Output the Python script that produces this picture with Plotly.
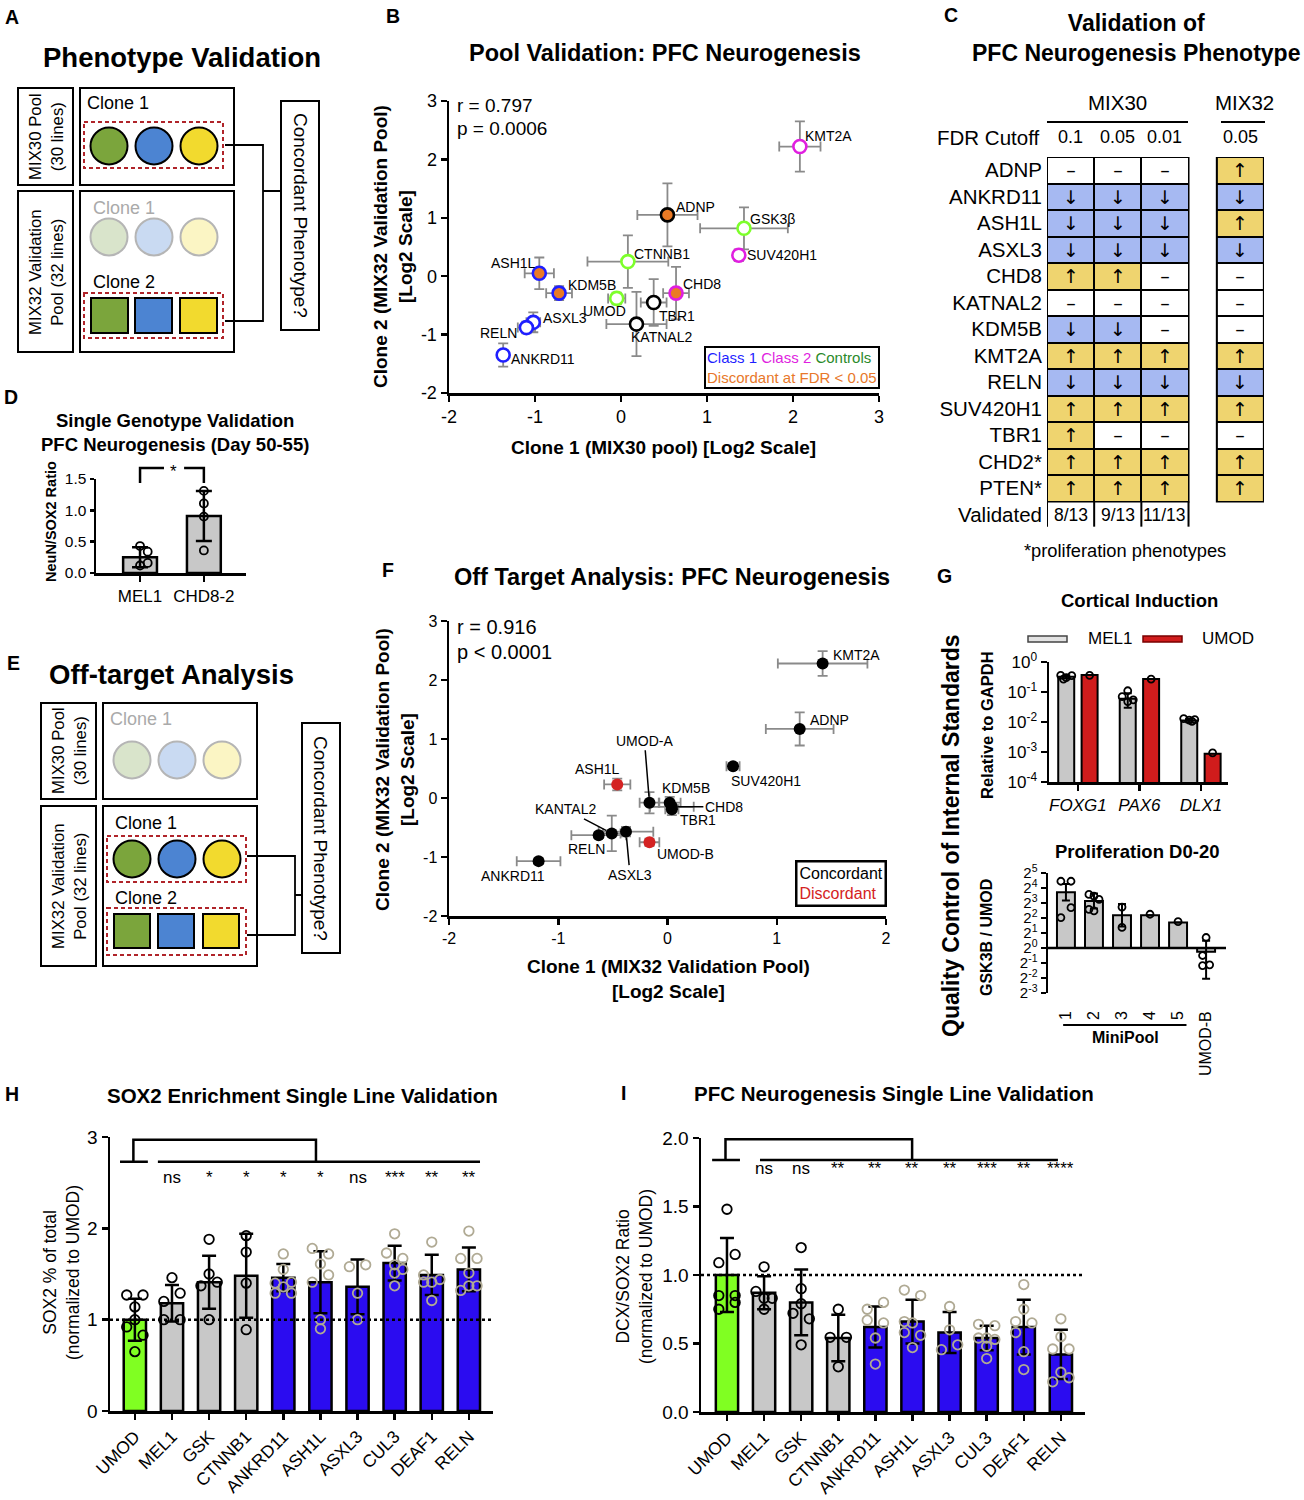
import numpy as np
import plotly.graph_objects as go

W, H = 1304, 1500
FONT = "Liberation Sans, Arial, Helvetica, sans-serif"

def px(x): return x / W
def py(y): return 1 - y / H

# ======================= DATA =======================
# Panel B : Pool validation
b_genes = ["KMT2A", "ADNP", "GSK3β", "SUV420H1", "CTNNB1", "ASH1L", "KDM5B", "UMOD",
           "CHD8", "TBR1", "KATNAL2", "ASXL3", "RELN", "ANKRD11"]
b_x = [2.08, 0.54, 1.43, 1.37, 0.08, -0.95, -0.72, -0.05, 0.64, 0.38, 0.18, -1.02, -1.10, -1.37]
b_y = [2.22, 1.05, 0.82, 0.36, 0.25, 0.05, -0.29, -0.38, -0.29, -0.45, -0.82, -0.79, -0.88, -1.35]
b_xerr = [0.24, 0.35, 0.51, 0.05, 0.47, 0.17, 0.15, 0.10, 0.15, 0.15, 0.35, 0.08, 0.10, 0.05]
b_yerr = [0.43, 0.54, 0.36, 0.10, 0.45, 0.27, 0.12, 0.10, 0.45, 0.40, 0.55, 0.17, 0.10, 0.20]
b_class = ["class2", "other", "control", "class2", "control", "class1", "class1", "control",
           "class2", "other", "other", "class1", "class1", "class1"]
b_discordant = [False, True, False, False, False, True, True, False, True, False, False, False, False, False]
b_r, b_p = "r = 0.797", "p = 0.0006"
b_ticks = [-2, -1, 0, 1, 2, 3]

# Panel C : validation table
c_genes = ["ADNP", "ANKRD11", "ASH1L", "ASXL3", "CHD8", "KATNAL2", "KDM5B", "KMT2A", "RELN",
           "SUV420H1", "TBR1", "CHD2*", "PTEN*"]
c_cutoffs = ["0.1", "0.05", "0.01"]
c_fdr_01 = ["N", "D", "D", "D", "U", "N", "D", "U", "D", "U", "U", "U", "U"]
c_fdr_005 = ["N", "D", "D", "D", "U", "N", "D", "U", "D", "U", "N", "U", "U"]
c_fdr_001 = ["N", "D", "D", "D", "N", "N", "N", "U", "D", "U", "N", "U", "U"]
c_mix32_cutoff = "0.05"
c_mix32 = ["U", "D", "U", "D", "N", "N", "N", "U", "D", "U", "N", "U", "U"]
c_validated = ["8/13", "9/13", "11/13"]

# Panel D
d_groups = ["MEL1", "CHD8-2"]
d_mean = [0.25, 0.91]
d_sd = [0.16, 0.40]
d_pts = [[0.43, 0.34, 0.16, 0.12], [1.31, 1.11, 0.90, 0.36]]

# Panel F : off target
f_genes = ["KMT2A", "ADNP", "SUV420H1", "UMOD-A", "KDM5B", "CHD8", "TBR1", "ASH1L", "UMOD-B",
           "KANTAL2", "ASXL3", "RELN", "ANKRD11"]
f_x = [1.42, 1.21, 0.60, -0.165, 0.02, 0.04, 0.04, -0.46, -0.165, -0.51, -0.38, -0.63, -1.18]
f_y = [2.28, 1.17, 0.54, -0.08, -0.08, -0.15, -0.19, 0.23, -0.75, -0.60, -0.57, -0.63, -1.07]
f_xerr = [0.41, 0.31, 0.06, 0.09, 0.10, 0.20, 0.06, 0.12, 0.09, 0.08, 0.25, 0.25, 0.20]
f_yerr = [0.21, 0.28, 0.05, 0.18, 0.10, 0.05, 0.10, 0.10, 0.06, 0.30, 0.08, 0.05, 0.05]
f_discordant = [False, False, False, False, False, False, False, True, True, False, False, False, False]
f_r, f_p = "r = 0.916", "p &lt; 0.0001"
f_xticks = [-2, -1, 0, 1, 2]
f_yticks = [-2, -1, 0, 1, 2, 3]

# Panel G top : cortical induction
g_genes = ["FOXG1", "PAX6", "DLX1"]
g_mel1 = [0.32, 0.06, 0.0113]
g_mel1_sd = [0.04, 0.03, 0.0015]
g_umod = [0.37, 0.27, 0.00088]
g_mel1_pts = [[0.36, 0.35, 0.30, 0.27], [0.11, 0.07, 0.055, 0.048], [0.013, 0.012, 0.0115, 0.0105]]
g_umod_pts = [[0.36], [0.27], [0.00093]]

# Panel G bottom : proliferation (log2 GSK3B / UMOD)
p_groups = ["1", "2", "3", "4", "5", "UMOD-B"]
p_log2 = [3.72, 3.13, 2.18, 2.18, 1.70, -0.25]
p_err_plus = [0.55, 0.50, 0.75, 0.0, 0.0, 0.73]
p_err_minus = [0.55, 0.50, 0.75, 0.0, 0.0, 1.80]
p_pts = [[4.45, 4.45, 2.69, 2.03], [3.57, 3.46, 3.24, 2.58, 2.47], [2.73, 1.37], [2.25], [1.76],
         [0.70, -0.50, -1.12, -1.17]]

# Panel H & I : single line validation
lines = ["UMOD", "MEL1", "GSK", "CTNNB1", "ANKRD11", "ASH1L", "ASXL3", "CUL3", "DEAF1", "RELN"]
line_group = ["control", "wt", "wt", "wt", "ko", "ko", "ko", "ko", "ko", "ko"]
h_mean = [1.00, 1.18, 1.41, 1.48, 1.46, 1.41, 1.36, 1.62, 1.49, 1.55]
h_sd = [0.23, 0.20, 0.29, 0.46, 0.15, 0.34, 0.30, 0.19, 0.22, 0.24]
h_pts = [[1.27, 1.27, 1.14, 1.00, 0.92, 0.83, 0.65], [1.46, 1.29, 1.20, 1.00, 1.00],
         [1.88, 1.50, 1.41, 1.37, 1.00], [1.92, 1.74, 1.40, 0.89],
         [1.72, 1.55, 1.41, 1.40, 1.36, 1.29, 1.29], [1.78, 1.72, 1.61, 1.49, 1.41, 1.00, 0.90],
         [1.58, 1.60, 1.29, 1.00], [1.94, 1.73, 1.67, 1.60, 1.55, 1.51, 1.37],
         [1.85, 1.49, 1.44, 1.41, 1.41, 1.21], [1.97, 1.67, 1.67, 1.51, 1.37, 1.37, 1.32]]
h_sig = ["ns", "*", "*", "*", "*", "ns", "***", "**", "**"]

i_mean = [1.00, 0.87, 0.80, 0.54, 0.62, 0.66, 0.58, 0.54, 0.62, 0.42]
i_sd = [0.27, 0.12, 0.24, 0.17, 0.15, 0.16, 0.15, 0.09, 0.20, 0.18]
i_pts = [[1.48, 1.15, 1.09, 0.85, 0.85, 0.80, 0.75], [1.06, 0.88, 0.83, 0.83, 0.75],
         [1.20, 0.90, 0.79, 0.72, 0.68, 0.49], [0.75, 0.545, 0.545, 0.33],
         [0.80, 0.75, 0.67, 0.65, 0.54, 0.35], [0.89, 0.85, 0.66, 0.65, 0.58, 0.56, 0.47],
         [0.77, 0.60, 0.49, 0.455], [0.64, 0.63, 0.54, 0.54, 0.53, 0.48, 0.39],
         [0.93, 0.75, 0.66, 0.65, 0.58, 0.44, 0.31], [0.68, 0.55, 0.46, 0.46, 0.29, 0.25, 0.22]]
i_sig = ["ns", "ns", "**", "**", "**", "**", "***", "**", "****"]

# ======================= STYLE (positions of labels / jitter) =======================
b_label_style = {
    "KMT2A": ("left", 3, 11), "ADNP": ("left", 7, 8), "GSK3β": ("left", 4, 9),
    "SUV420H1": ("left", 6, 0), "CTNNB1": ("left", 4, 8), "ASH1L": ("right", -1, 10),
    "KDM5B": ("left", 7, 8), "UMOD": ("center", -12, -13), "CHD8": ("left", 5, 9),
    "TBR1": ("left", 3, -14), "KATNAL2": ("left", -7, -13), "ASXL3": ("left", 8, 4),
    "RELN": ("right", -7, -5), "ANKRD11": ("left", 6, -4),
}
f_label_style = {
    "KMT2A": ("left", 8, 8), "ADNP": ("left", 8, 9), "SUV420H1": ("left", -4, -15),
    "UMOD-A": ("arrow", -5, -62), "KDM5B": ("center", 16, 15), "CHD8": ("arrow", 52, 0),
    "TBR1": ("left", 6, -11), "ASH1L": ("center", -20, 15), "UMOD-B": ("left", 6, -12),
    "KANTAL2": ("arrow", -46, -24), "ASXL3": ("arrow", 4, 43), "RELN": ("center", -12, -14),
    "ANKRD11": ("center", -26, -15),
}
d_jit = [[0, 1, 1, 0], [0, 0, 0, 0]]
g_jit = [[-1, 1, 0, -0.5], [0, -1, 1, 0], [-1, 1, 0, 0.5]]
p_jit = [[-1, 1, 1, -1], [-1, 0, 1, -1, 0], [0, 0], [0], [0], [0, -0.7, 0.7, -0.7]]
h_jit = [[-1, 1, 0, 0, -1, 1, 0], [0, 1, -1, -1, 1], [0, 0, 1, -1, 0], [0, 0, 0, 0],
         [0, 0, 1, -1, 0, -1, 1], [-1, 1, 0, 1, -1, 0, 0], [-1, 1, 0, 0],
         [0, -1, 1, 0, 1, 0, 0], [0, -1, 1, 0, -1, 0], [0, -1, 1, 0, 0, 1, -1]]
i_jit = [[0, 1, -1, -1, 1, 1, -1], [0, -1, 0, 1, 0], [0, 0, 0, -1, 1, 0], [0, -1, 1, 0],
         [1, -1, -1, 1, 0, 0], [-1, 1, -1, 0, -1, 1, 0], [0, 0, 1, -1],
         [-1, 1, -1, 0, 1, 0, 0], [0, 0, -1, 1, -1, 0, 0], [0, 0, -1, 1, 0, 1, -1]]

GREY = "#c8c8c8"
BLUE = "#2b0cf0"
LIME = "#80ff22"
RED = "#d01c1c"
ORANGE = "#ea7a25"

fig = go.Figure()
shapes = []
annotations = []


def T(text, x, y, size=16, bold=False, color="black", xanchor="center", yanchor="middle",
      angle=0, align="center"):
    if bold:
        text = "<b>" + text.replace("<br>", "</b><br><b>") + "</b>"
    annotations.append(dict(text=text, x=px(x), y=py(y), xref="paper", yref="paper",
                            showarrow=False, font=dict(size=size, color=color, family=FONT),
                            xanchor=xanchor, yanchor=yanchor, textangle=angle, align=align))


def R(x0, y0, x1, y1, color="black", width=2, fill=None, dash=None):
    shapes.append(dict(type="rect", xref="paper", yref="paper", x0=px(x0), x1=px(x1),
                       y0=py(y0), y1=py(y1), line=dict(color=color, width=width, dash=dash),
                       fillcolor=fill if fill else "rgba(0,0,0,0)"))


def Cc(cx, cy, r, fill, color="black", width=2):
    shapes.append(dict(type="circle", xref="paper", yref="paper", x0=px(cx - r), x1=px(cx + r),
                       y0=py(cy + r), y1=py(cy - r), line=dict(color=color, width=width),
                       fillcolor=fill))


def P(pts, color="black", width=2):
    d = ""
    for seg in pts:
        d += "M " + " L ".join(f"{px(a):.5f},{py(b):.5f}" for a, b in seg) + " "
    shapes.append(dict(type="path", xref="paper", yref="paper", path=d.strip(),
                       line=dict(color=color, width=width)))


def axis(domain, rng, anchor, **kw):
    d = dict(domain=domain, range=rng, anchor=anchor, showline=True, linecolor="black",
             linewidth=2.5, ticks="outside", ticklen=6, tickwidth=2.5, tickcolor="black",
             showgrid=False, zeroline=False, automargin=False, fixedrange=True,
             tickfont=dict(size=16, color="black", family=FONT))
    d.update(kw)
    return d


# ======================= PANEL LETTERS =======================
for lt, x, y in [("A", 12, 17), ("B", 393, 16), ("C", 951, 15), ("D", 11, 397), ("E", 13, 663),
                 ("F", 388, 570), ("G", 944, 576), ("H", 12, 1094), ("I", 623, 1093)]:
    T(lt, x, y, 19.5, bold=True)

# ======================= PANEL A / E schematics =======================
C_GREEN, C_BLUE, C_YEL = "#7ba53c", "#4c84d2", "#f2da2e"
F_GREEN, F_BLUE, F_YEL = "#d9e4cb", "#c9daf2", "#fbf5c4"
DASH = "4px,3px"
DRED = "#b0242a"

T("Phenotype Validation", 182, 57, 27.5, bold=True)
R(18, 88, 73, 185); R(80, 88, 234, 185); R(18, 191, 73, 352); R(80, 191, 234, 352)
R(281, 101, 319, 330)
T("MIX30 Pool<br>(30 lines)", 46, 137, 16.8, angle=-90)
T("MIX32 Validation<br>Pool (32 lines)", 46, 272, 16.8, angle=-90)
T("Concordant Phenotype?", 300, 215, 19, angle=90)
T("Clone 1", 85, 103, 18, xanchor="left")
R(84, 122, 223, 168, color=DRED, width=2, dash=DASH)
for cx, col in zip([109, 154, 199], [C_GREEN, C_BLUE, C_YEL]):
    Cc(cx, 146, 18.5, col)
T("Clone 1", 91, 208, 18, color="#aaaaaa", xanchor="left")
for cx, col in zip([109, 154, 199], [F_GREEN, F_BLUE, F_YEL]):
    Cc(cx, 237, 18.5, col, color="#b5b5b5")
T("Clone 2", 91, 282, 18, xanchor="left")
R(84, 293, 223, 338, color=DRED, width=2, dash=DASH)
for x0, col in zip([91, 135, 180], [C_GREEN, C_BLUE, C_YEL]):
    R(x0, 298, x0 + 37, 333, fill=col)
P([[(225, 145), (263, 145), (263, 321), (225, 321)], [(263, 191), (281, 191)]], width=1.8)

T("Off-target Analysis", 172, 675, 27.5, bold=True)
R(41, 703, 96, 799); R(103, 703, 257, 799); R(41, 806, 96, 966); R(103, 806, 257, 966)
R(302, 723, 340, 953)
T("MIX30 Pool<br>(30 lines)", 69, 751, 16.8, angle=-90)
T("MIX32 Validation<br>Pool (32 lines)", 69, 886, 16.8, angle=-90)
T("Concordant Phenotype?", 321, 838, 19, angle=90)
T("Clone 1", 108, 719, 18, color="#aaaaaa", xanchor="left")
for cx, col in zip([132, 177, 222], [F_GREEN, F_BLUE, F_YEL]):
    Cc(cx, 760, 18.5, col, color="#b5b5b5")
T("Clone 1", 113, 823, 18, xanchor="left")
R(107, 836, 246, 882, color=DRED, width=2, dash=DASH)
for cx, col in zip([132, 177, 222], [C_GREEN, C_BLUE, C_YEL]):
    Cc(cx, 859, 18.5, col)
T("Clone 2", 113, 898, 18, xanchor="left")
R(107, 908, 246, 955, color=DRED, width=2, dash=DASH)
for x0, col in zip([114, 158, 203], [C_GREEN, C_BLUE, C_YEL]):
    R(x0, 914, x0 + 36, 948, fill=col)
P([[(247, 856), (295, 856), (295, 935), (247, 935)], [(295, 895), (302, 895)]], width=1.8)

# ======================= PANEL B =======================
cls_color = {"class1": "#1f1fff", "class2": "#e01ee0", "control": "#7dff2b", "other": "black"}
fig.add_trace(go.Scatter(
    x=b_x, y=b_y, mode="markers", xaxis="x", yaxis="y", hoverinfo="skip",
    error_x=dict(type="data", array=b_xerr, color="#8a8a8a", thickness=1.8, width=5),
    error_y=dict(type="data", array=b_yerr, color="#8a8a8a", thickness=1.8, width=5),
    marker=dict(size=13, color=[ORANGE if d else "white" for d in b_discordant],
                line=dict(color=[cls_color[c] for c in b_class], width=2.6)),
    cliponaxis=False))
for g, x, y in zip(b_genes, b_x, b_y):
    anc, sx, sy = b_label_style[g]
    annotations.append(dict(text=g, x=x, y=y, xref="x", yref="y", showarrow=False, xanchor=anc,
                            yanchor="middle", xshift=sx, yshift=sy,
                            font=dict(size=14, color="black", family=FONT)))
T(b_r, 455, 106, 19, xanchor="left")
T(b_p, 455, 128, 19, xanchor="left")
annotations.append(dict(
    text="<span style='color:#1f1fff'>Class 1</span> <span style='color:#e01ee0'>Class 2</span> "
         "<span style='color:#2a8a2a'>Controls</span><br><span style='color:#e8782a'>Discordant at FDR &lt; 0.05</span>",
    x=px(880), y=py(389), xref="paper", yref="paper", xanchor="right", yanchor="bottom",
    showarrow=False, bordercolor="black", borderwidth=2, borderpad=1, align="left",
    bgcolor="white", font=dict(size=15, family=FONT)))
T("Pool Validation: PFC Neurogenesis", 665, 53, 23.5, bold=True)
T("Clone 1 (MIX30 pool) [Log2 Scale]", 664, 448, 19, bold=True)
T("Clone 2 (MIX32 Validation Pool)<br>[Log2 Scale]", 393, 247, 19, bold=True, angle=-90)

# ======================= PANEL C =======================
code = {"D": -1, "N": 0, "U": 1}
glyph = {"D": "↓", "N": "–", "U": "↑"}
cscale = [[0, "#a6b9f2"], [0.333, "#a6b9f2"], [0.333, "white"], [0.667, "white"],
          [0.667, "#efd46f"], [1, "#efd46f"]]
mix30 = list(zip(c_fdr_01, c_fdr_005, c_fdr_001))
rows = list(range(len(c_genes)))
fig.add_trace(go.Heatmap(
    x=list(range(len(c_cutoffs))), y=rows,
    z=[[code[v] for v in r] for r in mix30], text=[[glyph[v] for v in r] for r in mix30],
    texttemplate="%{text}", textfont=dict(size=19, color="black", family="DejaVu Sans"),
    colorscale=cscale, zmin=-1, zmax=1, showscale=False, xgap=2, ygap=2,
    xaxis="x2", yaxis="y2", hoverinfo="skip"))
MIX32_X = 3.6
fig.add_trace(go.Heatmap(
    x=[MIX32_X], y=rows, z=[[code[v]] for v in c_mix32], text=[[glyph[v]] for v in c_mix32],
    texttemplate="%{text}", textfont=dict(size=19, color="black", family="DejaVu Sans"),
    colorscale=cscale, zmin=-1, zmax=1, showscale=False, xgap=2, ygap=2,
    xaxis="x2", yaxis="y2", hoverinfo="skip"))
nrow = len(c_genes)
for x0, x1 in [(-0.5, len(c_cutoffs) - 0.5), (MIX32_X - 0.5, MIX32_X + 0.5)]:
    shapes.append(dict(type="rect", xref="x2", yref="y2", x0=x0, x1=x1, y0=-0.5, y1=nrow - 0.5,
                       fillcolor="black", line=dict(color="black", width=2), layer="below"))
for xv in [-0.5, 0.5, 1.5, 2.5]:
    shapes.append(dict(type="line", xref="x2", yref="y2", x0=xv, x1=xv, y0=nrow - 0.5,
                       y1=nrow + 0.45, line=dict(color="black", width=2)))
for j, v in enumerate(c_validated):
    annotations.append(dict(text=v, x=j, y=nrow, xref="x2", yref="y2", showarrow=False,
                            xanchor="center", yanchor="middle",
                            font=dict(size=17.5, color="black", family=FONT)))
for j, v in enumerate(c_cutoffs):
    annotations.append(dict(text=v, x=j, y=py(137), xref="x2", yref="paper", showarrow=False,
                            xanchor="center", yanchor="middle",
                            font=dict(size=18, color="black", family=FONT)))
annotations.append(dict(text=c_mix32_cutoff, x=MIX32_X, y=py(137), xref="x2", yref="paper",
                        showarrow=False, xanchor="center", yanchor="middle",
                        font=dict(size=18, color="black", family=FONT)))
T("FDR Cutoff", 1041, 137, 20.5, xanchor="right")
T("MIX30", 1117, 103, 20.5)
T("MIX32", 1244, 103, 20.5)
P([[(1047, 122), (1188, 122)], [(1221, 122), (1265, 122)]], width=2)
T("Validation of<br>PFC Neurogenesis Phenotype", 1136, 38, 23, bold=True)
T("*proliferation phenotypes", 1125, 551, 18.3)

# ======================= PANEL D =======================
fig.add_trace(go.Bar(x=list(range(len(d_groups))), y=d_mean, width=0.53, xaxis="x3", yaxis="y3",
                     marker=dict(color=GREY, line=dict(color="black", width=2.5)),
                     error_y=dict(type="data", array=d_sd, color="black", thickness=2.5, width=8),
                     hoverinfo="skip"))
dx_, dy_ = [], []
for i, (pts, jit) in enumerate(zip(d_pts, d_jit)):
    for v, j in zip(pts, jit):
        dx_.append(i + j * 0.12); dy_.append(v)
fig.add_trace(go.Scatter(x=dx_, y=dy_, mode="markers", xaxis="x3", yaxis="y3", hoverinfo="skip",
                         marker=dict(symbol="circle-open", size=8, color="black", line=dict(width=1.8)),
                         cliponaxis=False))
for seg in [[(0, 0.957), (0, 1.117), (0.375, 1.117)], [(0.69, 1.117), (1, 1.117), (1, 0.957)]]:
    shapes.append(dict(type="path", xref="x3", yref="y3 domain",
                       path="M " + " L ".join(f"{a},{b}" for a, b in seg),
                       line=dict(color="black", width=2.5)))
T("*", 173, 471, 17)
T("Single Genotype Validation<br>PFC Neurogenesis (Day 50-55)", 175, 433, 18.5, bold=True)
T("NeuN/SOX2 Ratio", 51, 522, 14.5, bold=True, angle=-90)

# ======================= PANEL F =======================
fig.add_trace(go.Scatter(
    x=f_x, y=f_y, mode="markers", xaxis="x4", yaxis="y4", hoverinfo="skip",
    error_x=dict(type="data", array=f_xerr, color="#8a8a8a", thickness=1.8, width=5),
    error_y=dict(type="data", array=f_yerr, color="#8a8a8a", thickness=1.8, width=5),
    marker=dict(size=12, color=["#d42222" if d else "black" for d in f_discordant]),
    cliponaxis=False))
for g, x, y in zip(f_genes, f_x, f_y):
    mode, a, b = f_label_style[g]
    if mode == "arrow":
        annotations.append(dict(text=g, x=x, y=y, xref="x4", yref="y4", showarrow=True, ax=a, ay=b,
                                arrowhead=0, arrowwidth=1.5, arrowcolor="black", standoff=6,
                                font=dict(size=14, color="black", family=FONT)))
    else:
        annotations.append(dict(text=g, x=x, y=y, xref="x4", yref="y4", showarrow=False,
                                xanchor=mode, yanchor="middle", xshift=a, yshift=b,
                                font=dict(size=14, color="black", family=FONT)))
T(f_r, 455, 627, 20, xanchor="left")
T(f_p, 455, 652, 20, xanchor="left")
annotations.append(dict(
    text="Concordant<br><span style='color:#d42222'>Discordant</span>",
    x=px(887), y=py(907), xref="paper", yref="paper", xanchor="right", yanchor="bottom",
    showarrow=False, bordercolor="black", borderwidth=2.5, borderpad=2, align="left",
    bgcolor="white", font=dict(size=16, family=FONT)))
T("Off Target Analysis: PFC Neurogenesis", 672, 577, 23.5, bold=True)
T("Clone 1 (MIX32 Validation Pool)<br>[Log2 Scale]", 668, 979, 19, bold=True)
T("Clone 2 (MIX32 Validation Pool)<br>[Log2 Scale]", 395, 770, 19, bold=True, angle=-90)

# ======================= PANEL G top =======================
gi = list(range(len(g_genes)))
fig.add_trace(go.Bar(x=[i - 0.19 for i in gi], y=g_mel1, width=0.26, xaxis="x5", yaxis="y5",
                     marker=dict(color=GREY, line=dict(color="black", width=2)),
                     error_y=dict(type="data", array=g_mel1_sd, color="black", thickness=2, width=4),
                     hoverinfo="skip"))
fig.add_trace(go.Bar(x=[i + 0.19 for i in gi], y=g_umod, width=0.26, xaxis="x5", yaxis="y5",
                     marker=dict(color=RED, line=dict(color="black", width=2)), hoverinfo="skip"))
gx, gy = [], []
for i, (pts, jit) in enumerate(zip(g_mel1_pts, g_jit)):
    for v, j in zip(pts, jit):
        gx.append(i - 0.19 + j * 0.09); gy.append(v)
for i, pts in enumerate(g_umod_pts):
    for v in pts:
        gx.append(i + 0.19); gy.append(v)
fig.add_trace(go.Scatter(x=gx, y=gy, mode="markers", xaxis="x5", yaxis="y5", hoverinfo="skip",
                         marker=dict(symbol="circle-open", size=7, color="black", line=dict(width=1.8)),
                         cliponaxis=False))
T("Cortical Induction", 1139, 600, 18.5, bold=True)
R(1028, 636, 1067, 642, color="#444444", width=1.5, fill="#e2e2e2")
R(1143, 636, 1182, 642, color="#7a0000", width=1.5, fill=RED)
T("MEL1", 1110, 639, 17)
T("UMOD", 1228, 639, 17)
T("Relative to GAPDH", 987, 725, 16.5, bold=True, angle=-90)

# ======================= PANEL G bottom =======================
pi = list(range(len(p_groups)))
fig.add_trace(go.Bar(x=pi, y=p_log2, width=0.64, xaxis="x6", yaxis="y6",
                     marker=dict(color=GREY, line=dict(color="black", width=2)),
                     error_y=dict(type="data", symmetric=False, array=p_err_plus,
                                  arrayminus=p_err_minus, color="black", thickness=2, width=4),
                     hoverinfo="skip"))
qx, qy = [], []
for i, (pts, jit) in enumerate(zip(p_pts, p_jit)):
    for v, j in zip(pts, jit):
        qx.append(i + j * 0.18); qy.append(v)
fig.add_trace(go.Scatter(x=qx, y=qy, mode="markers", xaxis="x6", yaxis="y6", hoverinfo="skip",
                         marker=dict(symbol="circle-open", size=7, color="black", line=dict(width=1.8)),
                         cliponaxis=False))
shapes.append(dict(type="line", xref="x6 domain", yref="y6", x0=0, x1=1, y0=0, y1=0,
                   line=dict(color="black", width=2.5)))
shapes.append(dict(type="line", xref="x6", yref="paper", x0=-0.1, x1=4.3, y0=py(1025), y1=py(1025),
                   line=dict(color="black", width=2)))
T("MiniPool", 1125, 1037, 16, bold=True)
T("Proliferation D0-20", 1137, 851, 18.5, bold=True)
T("GSK3B / UMOD", 986, 938, 16, bold=True, angle=-90)
T("Quality Control of Internal Standards", 951, 835, 23, bold=True, angle=-90)

# ======================= PANEL H / I =======================
col_map = {"control": LIME, "wt": GREY, "ko": BLUE}
pt_col = {"control": "black", "wt": "black", "ko": "#b0aa94"}
xi = list(range(len(lines)))


def bar_panel(means, sds, pts, jits, xa, ya):
    fig.add_trace(go.Bar(x=xi, y=means, width=0.6, xaxis=xa, yaxis=ya, hoverinfo="skip",
                         marker=dict(color=[col_map[g] for g in line_group],
                                     line=dict(color="black", width=2.5)),
                         error_y=dict(type="data", array=sds, color="black", thickness=2.5, width=7)))
    sx, sy, sc = [], [], []
    for i, (pp, jj) in enumerate(zip(pts, jits)):
        for v, j in zip(pp, jj):
            sx.append(i + j * 0.22); sy.append(v); sc.append(pt_col[line_group[i]])
    fig.add_trace(go.Scatter(x=sx, y=sy, mode="markers", xaxis=xa, yaxis=ya, hoverinfo="skip",
                             marker=dict(symbol="circle-open", size=9.5, color=sc, line=dict(width=1.8)),
                             cliponaxis=False))


bar_panel(h_mean, h_sd, h_pts, h_jit, "x7", "y7")
bar_panel(i_mean, i_sd, i_pts, i_jit, "x8", "y8")

for xa, ya, ybase, ytop, xl0, xl1, xb1 in [("x7", "y7", 2.73, 2.97, 0.62, 9.3, 4.88),
                                             ("x8", "y8", 1.84, 1.99, 0.89, 8.92, 4.99)]:
    shapes.append(dict(type="line", xref=xa + " domain", yref=ya, x0=0, x1=1, y0=1, y1=1,
                       line=dict(color="black", width=2.5, dash="dot")))
    shapes.append(dict(type="path", xref=xa, yref=ya,
                       path=f"M -0.4,{ybase} L 0.35,{ybase} M {xl0},{ybase} L {xl1},{ybase} "
                            f"M -0.04,{ybase} L -0.04,{ytop} L {xb1},{ytop} L {xb1},{ybase}",
                       line=dict(color="black", width=2.5)))
for k, s in enumerate(h_sig):
    annotations.append(dict(text=s, x=k + 1, y=2.56, xref="x7", yref="y7", showarrow=False,
                            font=dict(size=17, color="black", family=FONT)))
for k, s in enumerate(i_sig):
    annotations.append(dict(text=s, x=k + 1, y=1.78, xref="x8", yref="y8", showarrow=False,
                            font=dict(size=17, color="black", family=FONT)))
T("SOX2 Enrichment Single Line Validation", 302, 1095, 20.5, bold=True)
T("PFC Neurogenesis Single Line Validation", 894, 1093, 20.5, bold=True)
T("SOX2 % of total<br>(normalized to UMOD)", 61, 1273, 17.5, angle=-90)
T("DCX/SOX2 Ratio<br>(normalized to UMOD)", 634, 1277, 17.5, angle=-90)

# ======================= LAYOUT =======================
sup = lambda b, e: f"{b}<sup>{e}</sup>"
layout = dict(
    width=W, height=H, autosize=False, margin=dict(l=0, r=0, t=0, b=0),
    paper_bgcolor="white", plot_bgcolor="white", showlegend=False, hovermode=False,
    template="none", font=dict(family=FONT, color="black"), barmode="overlay",
    xaxis=axis([px(449), px(879)], [-2, 3], "y", tickvals=b_ticks, ticktext=[str(v) for v in b_ticks],
               tickfont=dict(size=18, family=FONT)),
    yaxis=axis([py(393), py(101)], [-2, 3], "x", tickvals=b_ticks, ticktext=[str(v) for v in b_ticks],
               tickfont=dict(size=18, family=FONT)),
    xaxis2=axis([px(1047), px(1264)], [-0.5, 4.1], "y2", showline=False, ticks="",
                showticklabels=False),
    yaxis2=axis([py(528), py(157)], [nrow + 0.5, -0.5], "x2", showline=False, ticks="",
                tickvals=list(range(nrow + 1)), ticktext=c_genes + ["Validated"],
                tickfont=dict(size=20.5, family=FONT), ticklabelstandoff=4),
    xaxis3=axis([px(96), px(246)], [-0.69, 1.66], "y3", tickvals=[0, 1], ticktext=d_groups,
                tickfont=dict(size=17, family=FONT)),
    yaxis3=axis([py(573), py(479)], [0, 1.5], "x3", tickvals=[0, 0.5, 1.0, 1.5], ticklen=4,
                tickformat=".1f", tickfont=dict(size=15.5, family=FONT)),
    xaxis4=axis([px(449), px(886)], [-2, 2], "y4", tickvals=f_xticks, ticktext=[str(v) for v in f_xticks]),
    yaxis4=axis([py(916), py(621)], [-2, 3], "x4", tickvals=f_yticks, ticktext=[str(v) for v in f_yticks]),
    xaxis5=axis([px(1049), px(1228)], [-0.47, 2.44], "y5", tickvals=gi,
                ticktext=[f"<i>{g}</i>" for g in g_genes], tickfont=dict(size=17, family=FONT)),
    yaxis5=axis([py(782), py(662)], [-4, 0], "x5", type="log",
                tickvals=[1, 0.1, 0.01, 0.001, 0.0001],
                ticktext=[sup(10, 0), sup(10, -1), sup(10, -2), sup(10, -3), sup(10, -4)],
                tickfont=dict(size=17, family=FONT)),
    xaxis6=axis([px(1048), px(1226)], [-0.64, 5.71], "y6", showline=False, ticks="",
                tickvals=pi, ticktext=p_groups, tickangle=-90, ticklabelstandoff=14,
                tickfont=dict(size=16, family=FONT)),
    yaxis6=axis([py(993), py(873)], [-3, 5], "x6", tickvals=list(range(-3, 6)),
                ticktext=[sup(2, e) for e in range(-3, 6)], ticklen=5,
                tickfont=dict(size=15, family=FONT)),
    xaxis7=axis([px(110), px(493)], [-0.67, 9.65], "y7", tickvals=xi, ticktext=lines,
                tickangle=-45, tickfont=dict(size=17.5, family=FONT)),
    yaxis7=axis([py(1411), py(1137)], [0, 3], "x7", dtick=1, tickfont=dict(size=19, family=FONT)),
    xaxis8=axis([px(701), px(1085)], [-0.70, 9.65], "y8", tickvals=xi, ticktext=lines,
                tickangle=-45, tickfont=dict(size=17.5, family=FONT)),
    yaxis8=axis([py(1412), py(1138)], [0, 2], "x8", dtick=0.5, tickformat=".1f",
                tickfont=dict(size=19, family=FONT)),
    shapes=shapes, annotations=annotations,
)
fig.update_layout(**layout)
fig.write_html("out.html", config={"displayModeBar": False, "staticPlot": True},
               post_script="document.body.style.margin='0px';document.body.style.overflow='hidden';")
